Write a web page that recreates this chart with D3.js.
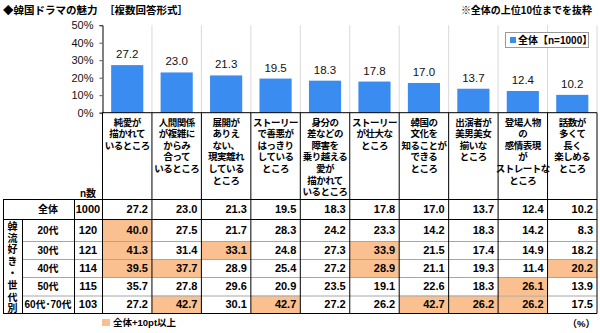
<!DOCTYPE html>
<html><head><meta charset="utf-8">
<script src="https://cdn.jsdelivr.net/npm/d3@7"></script>
<style>
body{margin:0;background:#fff;}
svg{display:block;font-family:"Liberation Sans","Noto Sans CJK JP",sans-serif;}
</style></head>
<body><svg id="c" width="600" height="333"></svg>
<script>
const categories = [
  ["純愛が","描かれて","いるところ"],
  ["人間関係","が複雑に","からみ","合って","いるところ"],
  ["展開が","ありえ","ない、","現実離れ","している","ところ"],
  ["ストーリー","で善悪が","はっきり","している","ところ"],
  ["身分の","差などの","障害を","乗り越える","愛が","描かれて","いるところ"],
  ["ストーリー","が壮大な","ところ"],
  ["韓国の","文化を","知ることが","できる","ところ"],
  ["出演者が","美男美女","揃いな","ところ"],
  ["登場人物","の","感情表現","が","ストレートな","ところ"],
  ["話数が","多くて","長く","楽しめる","ところ"]
];
const totalValues = [27.2,23.0,21.3,19.5,18.3,17.8,17.0,13.7,12.4,10.2];
const totalN = 1000;
const groupLabels = ["20代","30代","40代","50代","60代･70代"];
const groupN = [120,121,114,115,103];
const g20 = [40.0,27.5,21.7,28.3,24.2,23.3,14.2,18.3,14.2,8.3];
const g30 = [41.3,31.4,33.1,24.8,27.3,33.9,21.5,17.4,14.9,18.2];
const g40 = [39.5,37.7,28.9,25.4,27.2,28.9,21.1,19.3,11.4,20.2];
const g50 = [35.7,27.8,29.6,20.9,23.5,19.1,22.6,18.3,26.1,13.9];
const g60 = [27.2,42.7,30.1,42.7,27.2,26.2,42.7,26.2,26.2,17.5];
const groupValues = [g20,g30,g40,g50,g60];
const yTicks = [0,10,20,30,40,50];

const svg = d3.select("#c");
const BLUE = "#3b8cf0", PEACH = "#fac090";
const idx = categories.map((d,i)=>i);

const x = d3.scaleBand().domain(idx).range([102.5,597]).padding(0);
const xb = d3.scaleBand().domain(idx).range([102.5,597]).paddingInner(0.35).paddingOuter(0.175);
const y = d3.scaleLinear().domain([0,50]).range([112.7,25.2]);

// Title
svg.append("text").attr("x",3).attr("y",14).attr("font-size",10.5).attr("font-weight","bold").text("◆韓国ドラマの魅力");
svg.append("text").attr("x",104).attr("y",14).attr("font-size",10.5).attr("font-weight","bold").text("［複数回答形式］");
svg.append("text").attr("x",592).attr("y",14).attr("text-anchor","end").attr("font-size",10).attr("font-weight","bold").text("※全体の上位10位までを抜粋");

// plot area vertical gridlines
svg.append("g").selectAll("line").data(idx.slice(1).concat([10])).join("line")
  .attr("x1",d=> d<10 ? x(d) : 597).attr("x2",d=> d<10 ? x(d) : 597)
  .attr("y1",y(50)).attr("y2",y(0)).attr("stroke","#d9d9d9").attr("stroke-width",1);

// bars
svg.append("g").selectAll("rect").data(totalValues).join("rect")
  .attr("x",(d,i)=>xb(i)).attr("width",xb.bandwidth())
  .attr("y",d=>y(d)).attr("height",d=>y(0)-y(d)).attr("fill",BLUE);
svg.append("g").selectAll("text").data(totalValues).join("text")
  .attr("x",(d,i)=>x(i)+x.bandwidth()/2).attr("y",d=>y(d)-7)
  .attr("text-anchor","middle").attr("font-size",11.5).attr("fill","#111")
  .text(d=>d.toFixed(1));

// y axis
const ax = svg.append("g").attr("transform","translate(102.5,0)")
  .call(d3.axisLeft(y).tickValues(yTicks).tickSize(3).tickPadding(6).tickFormat(d=>d+"%"));
ax.select(".domain").attr("stroke","#000");
ax.selectAll(".tick line").attr("stroke","#555");
ax.selectAll("text").attr("font-size",11).attr("fill","#111").attr("font-family","Liberation Sans, sans-serif");

// legend
svg.append("rect").attr("x",505.5).attr("y",32.5).attr("width",83).attr("height",15).attr("fill","#fff").attr("stroke","#999");
svg.append("rect").attr("x",510).attr("y",37).attr("width",6).attr("height",6).attr("fill",BLUE);
svg.append("text").attr("x",518).attr("y",44).attr("font-size",10).attr("font-weight","bold").text("全体【n=1000】");

// header: vertical separators (dark) from axis bottom to table
svg.append("g").selectAll("line").data(idx.concat([10])).join("line")
  .attr("x1",d=> d<10 ? x(d) : 597).attr("x2",d=> d<10 ? x(d) : 597)
  .attr("y1",y(0)).attr("y2",199).attr("stroke","#000");
svg.append("line").attr("x1",102.5).attr("x2",597).attr("y1",y(0)).attr("y2",y(0)).attr("stroke","#000");

// category labels
const lh = 11.6;
categories.forEach((lines,i)=>{
  const t = svg.append("text").attr("font-size",9.5).attr("font-weight","bold")
    .attr("text-anchor","middle").attr("letter-spacing",-0.5).attr("font-family","Noto Sans CJK JP, sans-serif");
  lines.forEach((l,j)=>{
    t.append("tspan").attr("x",x(i)+x.bandwidth()/2).attr("y",125.5+j*lh).text(l);
  });
});
svg.append("text").attr("x",88).attr("y",197).attr("text-anchor","middle").attr("font-size",10).attr("font-weight","bold").text("n数");

// table
const rowTops = [199,219,241,259,277,295.5,313];
const colLeftX = 3, colVX = 22, colNX = 74;
const tbl = svg.append("g");
groupValues.forEach((vals,r)=>{
  vals.forEach((v,c)=>{
    if (v - totalValues[c] >= 10) {
      tbl.append("rect").attr("x",x(c)).attr("y",rowTops[r+1]).attr("width",x.bandwidth()).attr("height",rowTops[r+2]-rowTops[r+1]).attr("fill",PEACH);
    }
  });
});
for (let r=2;r<6;r++){
  tbl.append("line").attr("x1",colVX).attr("x2",597).attr("y1",rowTops[r]+0.5).attr("y2",rowTops[r]+0.5).attr("stroke","#a6a6a6");
}
[199,219,313].forEach(yy=>{
  tbl.append("line").attr("x1",colLeftX).attr("x2",597).attr("y1",yy+0.5).attr("y2",yy+0.5).attr("stroke","#000");
});
[colLeftX, colNX].forEach(xx=>{
  tbl.append("line").attr("x1",xx+0.5).attr("x2",xx+0.5).attr("y1",199).attr("y2",313.5).attr("stroke","#000");
});
tbl.append("line").attr("x1",colVX+0.5).attr("x2",colVX+0.5).attr("y1",219).attr("y2",313.5).attr("stroke","#000");
idx.concat([10]).forEach(d=>{
  const xx = d<10 ? x(d) : 597;
  tbl.append("line").attr("x1",xx).attr("x2",xx).attr("y1",199).attr("y2",313.5).attr("stroke","#000");
});

function rowText(label, n, vals, top, bottom){
  const cy = (top+bottom)/2 + 4;
  tbl.append("text").attr("x",48).attr("y",cy).attr("text-anchor","middle").attr("font-size",10).attr("font-weight","bold").text(label);
  tbl.append("text").attr("x",88).attr("y",cy).attr("text-anchor","middle").attr("font-size",11).attr("font-weight","bold").text(n);
  vals.forEach((v,c)=>{
    tbl.append("text").attr("x",x(c)+x.bandwidth()-4).attr("y",cy).attr("text-anchor","end").attr("font-size",11).attr("font-weight","bold").text(v.toFixed(1));
  });
}
rowText("全体", totalN, totalValues, rowTops[0], rowTops[1]);
groupValues.forEach((vals,r)=> rowText(groupLabels[r], groupN[r], vals, rowTops[r+1], rowTops[r+2]));

// vertical label (single text, vertical writing)
tbl.append("text").attr("x",12.5).attr("y",221)
  .attr("font-size",10).attr("font-weight","bold").attr("font-family","Noto Sans CJK JP, sans-serif")
  .style("writing-mode","vertical-rl").style("text-orientation","upright").attr("letter-spacing",1.8)
  .text("韓流好き・世代別");

// bottom legend
svg.append("rect").attr("x",102).attr("y",319).attr("width",8).attr("height",7).attr("fill",PEACH);
svg.append("text").attr("x",113).attr("y",326).attr("font-size",9.5).attr("font-weight","bold").text("全体+10pt以上");
svg.append("text").attr("x",595).attr("y",327).attr("text-anchor","end").attr("font-size",9.5).attr("font-weight","bold").text("（%）");
</script></body></html>
